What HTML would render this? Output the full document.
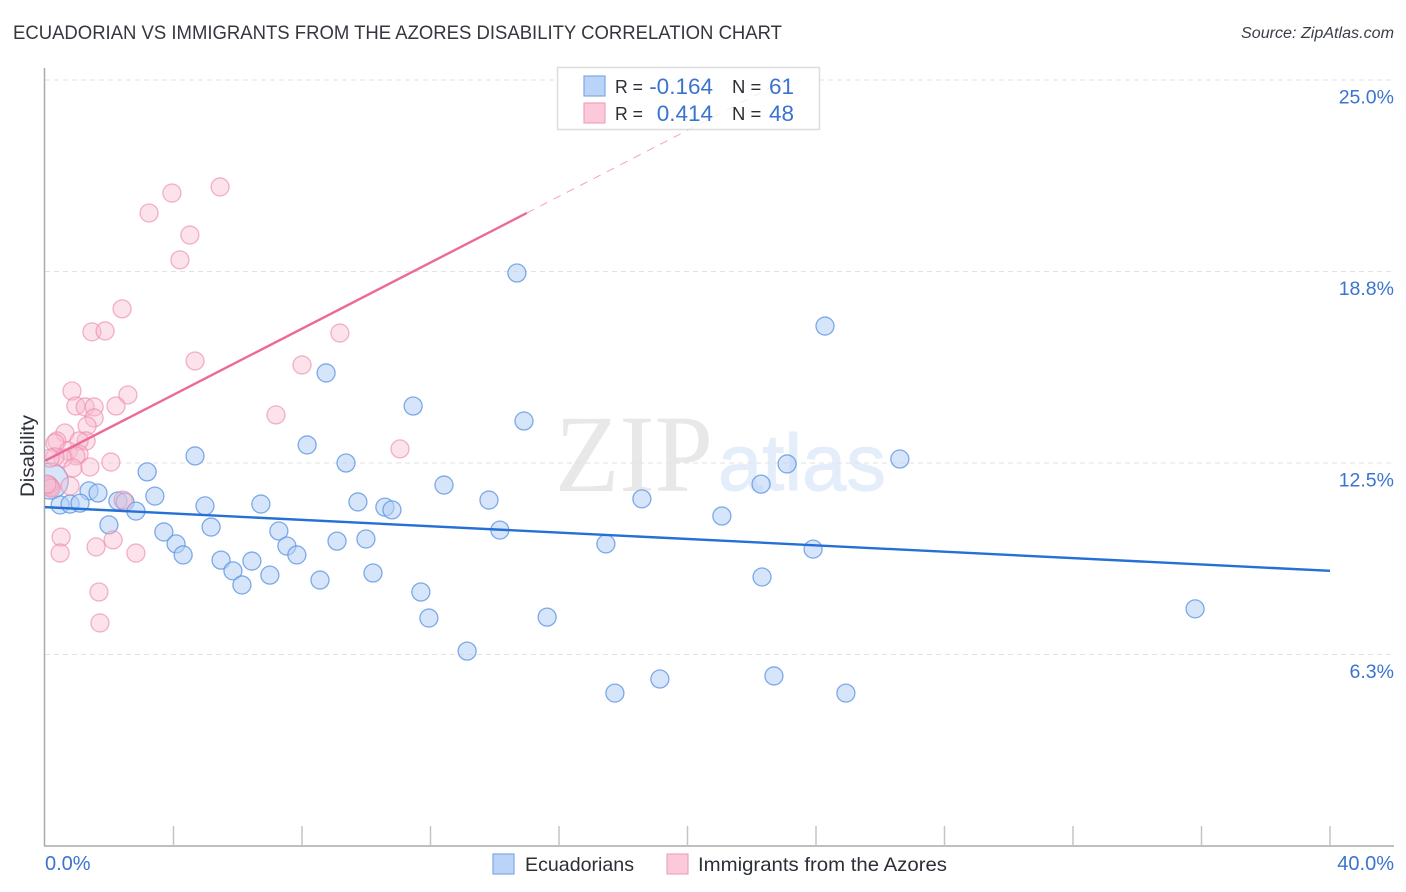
<!DOCTYPE html>
<html lang="en">
<head>
<meta charset="utf-8">
<title>Ecuadorian vs Immigrants from the Azores Disability Correlation Chart</title>
<style>
html,body{margin:0;padding:0;background:#fff;width:1406px;height:892px;overflow:hidden}
svg{display:block;font-family:"Liberation Sans",sans-serif}
</style>
</head>
<body>
<svg id="chart" xmlns="http://www.w3.org/2000/svg" width="1406" height="892" viewBox="0 0 1406 892">
  <defs>
    <clipPath id="plot-clip"><rect x="45" y="60" width="1349" height="786"/></clipPath>
  </defs>
  <rect x="0" y="0" width="1406" height="892" fill="#ffffff"/>
  <text x="13" y="39" font-size="19" fill="#33373e" textLength="769" lengthAdjust="spacingAndGlyphs">ECUADORIAN VS IMMIGRANTS FROM THE AZORES DISABILITY CORRELATION CHART</text>
  <text x="1394" y="38" font-size="15.5" font-style="italic" fill="#3a3f47" text-anchor="end" textLength="153" lengthAdjust="spacingAndGlyphs">Source: ZipAtlas.com</text>
  <g>
    <text x="555" y="491" font-family="'Liberation Serif',serif" font-size="110" fill="#e8e8e8" textLength="158" lengthAdjust="spacingAndGlyphs">ZIP</text>
    <text x="718" y="490" font-family="'Liberation Sans',sans-serif" font-size="80" fill="#e4edfa" stroke="#e4edfa" stroke-width="1" textLength="168" lengthAdjust="spacingAndGlyphs">atlas</text>
  </g>
  <g id="grid"></g>
  <g id="axes"></g>
  <g id="marks" clip-path="url(#plot-clip)"></g>
  <g id="trends"></g>
  <text transform="translate(34,456) rotate(-90)" font-size="19.5" fill="#2b2f36" text-anchor="middle" textLength="82" lengthAdjust="spacingAndGlyphs">Disability</text>
  <g>
    <rect x="557.5" y="67.5" width="262" height="62" fill="#ffffff" fill-opacity="0.75" stroke="#dddddd" stroke-width="1.5"/>
    <rect x="584" y="76" width="21" height="20" fill="#b9d4f8" stroke="#7fa8e2" stroke-width="1.2"/>
    <rect x="584" y="103" width="21" height="20" fill="#fcc9da" stroke="#f0a3bd" stroke-width="1.2"/>
    <text x="615" y="93" font-size="18.5" fill="#2b2f36" textLength="28" lengthAdjust="spacingAndGlyphs">R =</text>
    <text x="713" y="94" font-size="22.5" fill="#3b74d0" text-anchor="end">-0.164</text>
    <text x="732" y="93" font-size="18.5" fill="#2b2f36">N =</text>
    <text x="794" y="94" font-size="22.5" fill="#3b74d0" text-anchor="end">61</text>
    <text x="615" y="120" font-size="18.5" fill="#2b2f36" textLength="28" lengthAdjust="spacingAndGlyphs">R =</text>
    <text x="713" y="121" font-size="22.5" fill="#3b74d0" text-anchor="end">0.414</text>
    <text x="732" y="120" font-size="18.5" fill="#2b2f36">N =</text>
    <text x="794" y="121" font-size="22.5" fill="#3b74d0" text-anchor="end">48</text>
  </g>
  <g>
    <g>
      <rect x="493" y="854" width="21" height="20" fill="#b9d4f8" stroke="#7fa8e2" stroke-width="1.2"/>
      <text x="525" y="871" font-size="19.5" fill="#2b2f36" textLength="109" lengthAdjust="spacingAndGlyphs">Ecuadorians</text>
    </g>
    <g>
      <rect x="667" y="854" width="21" height="20" fill="#fcc9da" stroke="#f0a3bd" stroke-width="1.2"/>
      <text x="698" y="871" font-size="19.5" fill="#2b2f36" textLength="249" lengthAdjust="spacingAndGlyphs">Immigrants from the Azores</text>
    </g>
  </g>
</svg>
<script>
const yTickValues = [25, 18.75, 12.5, 6.25];
const yTickLabels = ["25.0%", "18.8%", "12.5%", "6.3%"];
const xTickValues = [0, 4, 8, 12, 16, 20, 24, 28, 32, 36, 40];
const xEndLabels = ["0.0%", "40.0%"];

const ecuadorianX = [14.69,24.28,8.75,11.46,14.91,8.16,4.67,9.37,23.10,26.61,3.18,12.42,22.29,1.37,1.65,3.42,13.82,18.58,9.74,2.27,2.49,0.47,0.78,1.09,4.98,6.72,10.58,10.80,2.83,21.07,1.99,5.17,7.28,14.16,3.70,4.08,9.09,9.99,17.46,7.53,23.91,4.30,7.84,5.48,6.44,5.85,7.00,10.21,8.56,22.32,6.13,11.70,35.80,11.95,15.63,13.14,19.14,22.69,17.74,24.93];
const ecuadorianY = [18.70,16.97,15.44,14.36,13.87,13.09,12.73,12.50,12.47,12.63,12.21,11.78,11.81,11.59,11.52,11.42,11.29,11.33,11.23,11.26,11.23,11.13,11.16,11.19,11.10,11.16,11.06,10.97,10.93,10.77,10.48,10.41,10.28,10.31,10.25,9.86,9.95,10.02,9.86,9.79,9.69,9.50,9.50,9.33,9.30,8.98,8.84,8.91,8.68,8.78,8.52,8.29,7.74,7.44,7.47,6.36,5.45,5.55,4.99,4.99];
const ecuadorianLargeX = [0.16];
const ecuadorianLargeY = [11.91];

const azoresX = [5.45,3.95,3.24,4.51,4.20,2.40,1.46,1.87,9.18,4.67,8.00,0.84,2.58,0.96,1.25,1.53,2.21,7.19,1.53,1.31,11.05,0.62,0.37,1.28,1.06,0.31,0.72,1.06,0.96,0.56,0.31,0.16,0.87,1.40,2.05,0.78,0.16,0.12,0.19,0.06,2.43,0.50,0.47,2.12,1.59,2.83,1.68,1.71];
const azoresY = [21.51,21.31,20.66,19.94,19.13,17.53,16.78,16.81,16.74,15.83,15.70,14.85,14.72,14.36,14.33,14.33,14.36,14.07,13.97,13.71,12.96,13.48,13.22,13.22,13.22,13.15,12.89,12.79,12.73,12.66,12.70,12.66,12.34,12.37,12.53,11.75,11.72,11.78,11.68,11.81,11.29,10.08,9.56,9.99,9.76,9.56,8.29,7.28];

const ecuadorianTrendX = [0, 40];
const ecuadorianTrendY = [11.06, 8.98];
const azoresTrendSolidX = [0, 15];
const azoresTrendSolidY = [12.57, 20.66];
const azoresTrendDashedX = [15, 23];
const azoresTrendDashedY = [20.66, 24.98];

const NS = "http://www.w3.org/2000/svg";
const plotLeft = 45, plotZeroX = 45, plotFortyX = 1330, plotRight = 1394, plotBottom = 846, plotTop = 68;
const yAt25 = 80, yAt6 = 654.5;

function xScale(v) { return plotZeroX + (v / 40) * (plotFortyX - plotZeroX); }
function yScale(v) { return yAt25 + ((25 - v) / 18.75) * (yAt6 - yAt25); }

function make(tag, attrs, parent) {
  const el = document.createElementNS(NS, tag);
  for (const k in attrs) el.setAttribute(k, attrs[k]);
  parent.appendChild(el);
  return el;
}

const grid = document.getElementById("grid");
const axes = document.getElementById("axes");
const marks = document.getElementById("marks");
const trends = document.getElementById("trends");

yTickValues.forEach(function (v, i) {
  const line = make("line", { x1: plotLeft, x2: plotRight, y1: yScale(v), y2: yScale(v), stroke: "#e2e2e2", "stroke-width": 1, "stroke-dasharray": "5 4" }, grid);
  
  
  const label = make("text", { x: 1394, y: yScale(v) + 23.5, "font-size": 19.5, fill: "#3b74d0", "text-anchor": "end" }, axes);
  label.textContent = yTickLabels[i];
  
  
});

const yAxisLine = make("line", { x1: 44.5, x2: 44.5, y1: plotTop, y2: plotBottom, stroke: "#aaaaaa", "stroke-width": 1.5 }, axes);


const xAxisLine = make("line", { x1: 44, x2: plotRight, y1: plotBottom, y2: plotBottom, stroke: "#aaaaaa", "stroke-width": 1.5 }, axes);



xTickValues.slice(1).forEach(function (v) {
  const tick = make("line", { x1: xScale(v), x2: xScale(v), y1: 826, y2: plotBottom, stroke: "#c4c4c4", "stroke-width": 1.5 }, axes);
  
  
});

const xStartLabel = make("text", { x: 45, y: 870, "font-size": 20, fill: "#3b74d0" }, axes);
xStartLabel.textContent = xEndLabels[0];


const xEndLabel = make("text", { x: 1394, y: 870, "font-size": 20, fill: "#3b74d0", "text-anchor": "end" }, axes);
xEndLabel.textContent = xEndLabels[1];



const blueStyle = { fill: "#b4d0f6", "fill-opacity": 0.55, stroke: "#5f97e2", "stroke-opacity": 0.8, "stroke-width": 1.3 };
const pinkStyle = { fill: "#f9b9cf", "fill-opacity": 0.42, stroke: "#ec8bad", "stroke-opacity": 0.65, "stroke-width": 1.3 };

function circleAttrs(style, x, y, r) {
  return Object.assign({ cx: xScale(x), cy: yScale(y), r: r }, style);
}

ecuadorianLargeX.forEach(function (x, i) {
  const dot = make("circle", circleAttrs(blueStyle, x, ecuadorianLargeY[i], 18), marks);
  
  
});
ecuadorianX.forEach(function (x, i) {
  const dot = make("circle", circleAttrs(blueStyle, x, ecuadorianY[i], 9), marks);
  
  
});
azoresX.forEach(function (x, i) {
  const dot = make("circle", circleAttrs(pinkStyle, x, azoresY[i], 9), marks);
  
  
});

function lineAttrs(xs, ys, color, width) {
  return { x1: xScale(xs[0]), y1: yScale(ys[0]), x2: xScale(xs[1]), y2: yScale(ys[1]), stroke: color, "stroke-width": width };
}

const blueTrend = make("line", lineAttrs(ecuadorianTrendX, ecuadorianTrendY, "#2470d6", 2.4), trends);


const pinkTrend = make("line", lineAttrs(azoresTrendSolidX, azoresTrendSolidY, "#ec6a98", 2.4), trends);


const pinkTrendDash = make("line", Object.assign(lineAttrs(azoresTrendDashedX, azoresTrendDashedY, "#f3a3be", 1), { "stroke-dasharray": "8 7" }), trends);


</script>
</body>
</html>
